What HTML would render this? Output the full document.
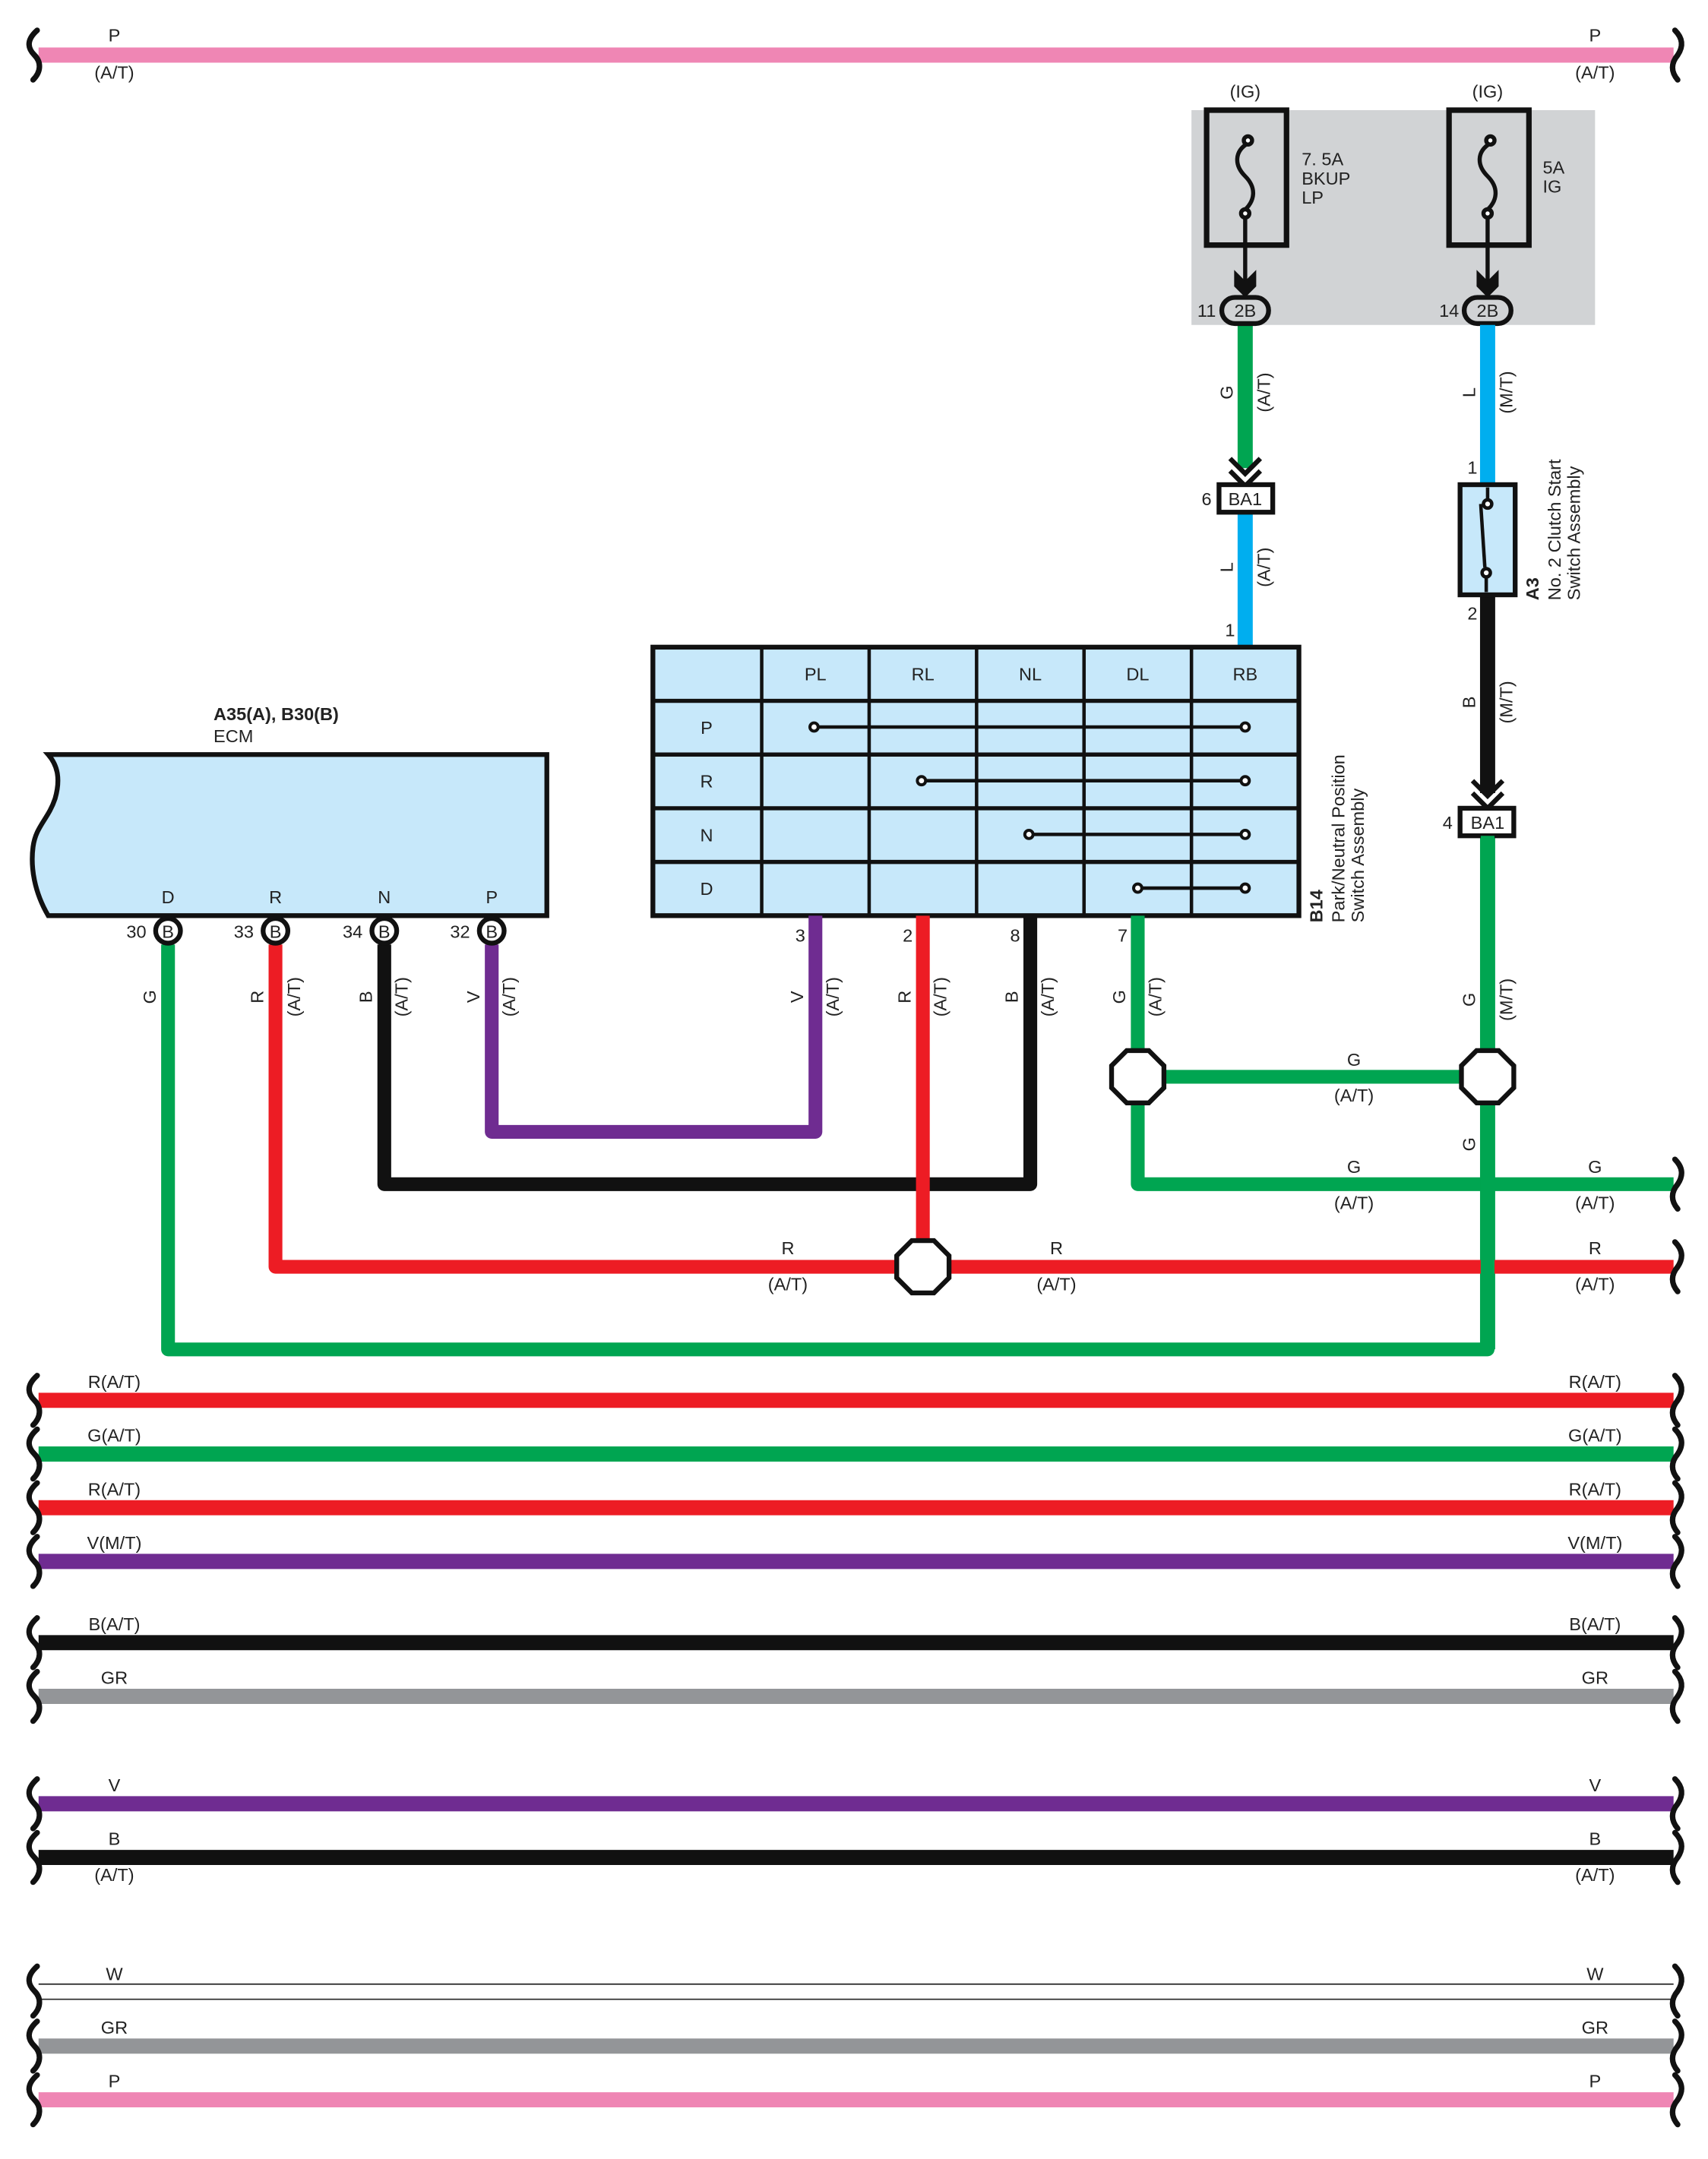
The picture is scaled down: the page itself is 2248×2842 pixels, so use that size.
<!DOCTYPE html>
<html><head><meta charset="utf-8"><style>
html,body{margin:0;padding:0;background:#fff;}
svg{display:block;}
text{font-family:"Liberation Sans",sans-serif;font-size:13px;fill:#222;}
</style></head><body>
<svg width="2248" height="2842" viewBox="0 0 1240 1568" preserveAspectRatio="none" xmlns="http://www.w3.org/2000/svg">
<defs>
<path id="brL" d="M0,-18 C-9,-10 -6,-4 -2,0 C3,5 3,12 -3,18" fill="none" stroke="#111" stroke-width="4" stroke-linecap="round"/>
<path id="brR" d="M0,-18 C6,-12 6,-6 2,0 C-3,6 -3,12 2,18" fill="none" stroke="#111" stroke-width="4" stroke-linecap="round"/>
</defs>
<rect width="1240" height="1568" fill="#fff"/>

<!-- top pink -->
<line x1="28" y1="40" x2="1215" y2="40" stroke="#ef86b4" stroke-width="11"/>
<use href="#brL" x="27" y="40"/><use href="#brR" x="1216" y="40"/>
<text x="83" y="30" text-anchor="middle">P</text><text x="83" y="57" text-anchor="middle">(A/T)</text>
<text x="1158" y="30" text-anchor="middle">P</text><text x="1158" y="57" text-anchor="middle">(A/T)</text>

<!-- fuse box -->
<rect x="865" y="80" width="293" height="156" fill="#d1d3d5"/>
<text x="904" y="71" text-anchor="middle">(IG)</text><text x="1080" y="71" text-anchor="middle">(IG)</text>
<rect x="876" y="80" width="58" height="98" fill="none" stroke="#111" stroke-width="4"/>
<rect x="1052" y="80" width="58" height="98" fill="none" stroke="#111" stroke-width="4"/>
<g fill="none" stroke="#111" stroke-width="3">
<path d="M906,104 C896,110 896,120 904,128 C912,136 912,146 902,154"/>
<circle cx="906" cy="102" r="3" fill="#fff"/><circle cx="904" cy="155" r="3" fill="#fff"/>
<path d="M1082,104 C1072,110 1072,120 1080,128 C1088,136 1088,146 1078,154"/>
<circle cx="1082" cy="102" r="3" fill="#fff"/><circle cx="1080" cy="155" r="3" fill="#fff"/>
<line x1="904" y1="158" x2="904" y2="205"/><line x1="1080" y1="158" x2="1080" y2="205"/>
</g>
<path d="M896,196 L904,204 L912,196 L912,208 L904,216 L896,208Z" fill="#111"/>
<path d="M1072,196 L1080,204 L1088,196 L1088,208 L1080,216 L1072,208Z" fill="#111"/>
<text x="945" y="120">7. 5A</text><text x="945" y="134">BKUP</text><text x="945" y="148">LP</text>
<text x="1120" y="126">5A</text><text x="1120" y="140">IG</text>

<!-- left G/L column -->
<line x1="904" y1="236" x2="904" y2="340" stroke="#00a551" stroke-width="11"/>
<path d="M893,333 L904,344 L915,333 M893,342 L904,353 L915,342" fill="none" stroke="#111" stroke-width="3.5"/>
<line x1="904" y1="372" x2="904" y2="470" stroke="#00aeef" stroke-width="11"/>
<rect x="885" y="352" width="39" height="20" fill="#fff" stroke="#111" stroke-width="3.5"/>
<text x="904" y="367" text-anchor="middle">BA1</text><text x="876" y="367" text-anchor="middle">6</text>
<text x="893" y="462" text-anchor="middle">1</text>
<text transform="translate(895,285) rotate(-90)" text-anchor="middle">G</text>
<text transform="translate(922,285) rotate(-90)" text-anchor="middle">(A/T)</text>
<text transform="translate(895,412) rotate(-90)" text-anchor="middle">L</text>
<text transform="translate(922,412) rotate(-90)" text-anchor="middle">(A/T)</text>
<!-- 2B connectors -->
<rect x="887" y="216" width="34" height="19" rx="9.5" fill="#d1d3d5" stroke="#111" stroke-width="3.5"/>
<text x="904" y="230" text-anchor="middle">2B</text><text x="876" y="230" text-anchor="middle">11</text>
<rect x="1063" y="216" width="34" height="19" rx="9.5" fill="#d1d3d5" stroke="#111" stroke-width="3.5"/>
<text x="1080" y="230" text-anchor="middle">2B</text><text x="1052" y="230" text-anchor="middle">14</text>

<!-- right column -->
<line x1="1080" y1="236" x2="1080" y2="353" stroke="#00aeef" stroke-width="11"/>
<text transform="translate(1071,285) rotate(-90)" text-anchor="middle">L</text>
<text transform="translate(1098,285) rotate(-90)" text-anchor="middle">(M/T)</text>
<text x="1069" y="344" text-anchor="middle">1</text>
<line x1="1080" y1="432" x2="1080" y2="576" stroke="#111" stroke-width="11"/>
<path d="M1069,567 L1080,578 L1091,567 M1069,576 L1080,587 L1091,576" fill="none" stroke="#111" stroke-width="3.5"/>
<line x1="1080" y1="607" x2="1080" y2="980" stroke="#00a551" stroke-width="11"/>
<rect x="1060" y="352" width="40" height="80" fill="#c7e8fa" stroke="#111" stroke-width="3.5"/>
<g stroke="#111" stroke-width="2.5" fill="none"><line x1="1080" y1="354" x2="1080" y2="362"/>
<line x1="1075" y1="366" x2="1078" y2="412"/><circle cx="1080" cy="366" r="3" fill="#fff"/>
<circle cx="1079" cy="416" r="3" fill="#fff"/><line x1="1079" y1="419" x2="1079" y2="430"/></g>
<text x="1069" y="450" text-anchor="middle">2</text>
<text transform="translate(1117,436) rotate(-90)" style="font-weight:bold">A3</text>
<text transform="translate(1133,436) rotate(-90)">No. 2 Clutch Start</text>
<text transform="translate(1147,436) rotate(-90)">Switch Assembly</text>
<text transform="translate(1071,510) rotate(-90)" text-anchor="middle">B</text>
<text transform="translate(1098,510) rotate(-90)" text-anchor="middle">(M/T)</text>
<rect x="1060" y="587" width="39" height="20" fill="#fff" stroke="#111" stroke-width="3.5"/>
<text x="1080" y="602" text-anchor="middle">BA1</text><text x="1051" y="602" text-anchor="middle">4</text>
<text transform="translate(1071,726) rotate(-90)" text-anchor="middle">G</text>
<text transform="translate(1098,726) rotate(-90)" text-anchor="middle">(M/T)</text>

<!-- table -->
<rect x="474" y="470" width="469" height="195" fill="#c7e8fa" stroke="#111" stroke-width="3.5"/>
<g stroke="#111" stroke-width="2.5">
<line x1="553" y1="470" x2="553" y2="665"/><line x1="631" y1="470" x2="631" y2="665"/><line x1="709" y1="470" x2="709" y2="665"/><line x1="787" y1="470" x2="787" y2="665"/><line x1="865" y1="470" x2="865" y2="665"/>
<line x1="474" y1="509" x2="943" y2="509" stroke-width="3"/><line x1="474" y1="548" x2="943" y2="548" stroke-width="3"/><line x1="474" y1="587" x2="943" y2="587" stroke-width="3"/><line x1="474" y1="626" x2="943" y2="626" stroke-width="3"/>
<line x1="591" y1="528" x2="904" y2="528"/><line x1="669" y1="567" x2="904" y2="567"/><line x1="747" y1="606" x2="904" y2="606"/><line x1="826" y1="645" x2="904" y2="645"/>
</g>
<g fill="#fff" stroke="#111" stroke-width="2.2">
<circle cx="591" cy="528" r="3"/><circle cx="904" cy="528" r="3"/><circle cx="669" cy="567" r="3"/><circle cx="904" cy="567" r="3"/>
<circle cx="747" cy="606" r="3"/><circle cx="904" cy="606" r="3"/><circle cx="826" cy="645" r="3"/><circle cx="904" cy="645" r="3"/></g>
<g text-anchor="middle"><text x="592" y="494">PL</text><text x="670" y="494">RL</text><text x="748" y="494">NL</text><text x="826" y="494">DL</text><text x="904" y="494">RB</text>
<text x="513" y="533">P</text><text x="513" y="572">R</text><text x="513" y="611">N</text><text x="513" y="650">D</text></g>
<text transform="translate(960,670) rotate(-90)" style="font-weight:bold">B14</text>
<text transform="translate(976,670) rotate(-90)">Park/Neutral Position</text>
<text transform="translate(990,670) rotate(-90)">Switch Assembly</text>

<!-- ECM -->
<text x="155" y="523" style="font-weight:bold">A35(A), B30(B)</text><text x="155" y="539">ECM</text>
<path d="M35,548 L397,548 L397,665 L35,665 C25,648 22,630 24,615 C26,600 35,595 40,580 C44,566 42,556 35,548Z" fill="#c7e8fa" stroke="#111" stroke-width="3.5"/>
<g text-anchor="middle"><text x="122" y="656">D</text><text x="200" y="656">R</text><text x="279" y="656">N</text><text x="357" y="656">P</text>
<text x="99" y="681">30</text><text x="177" y="681">33</text><text x="256" y="681">34</text><text x="334" y="681">32</text></g>

<!-- wires -->
<g fill="none" stroke-width="10" stroke-linejoin="round">
<path d="M592,665 L592,822 L357,822 L357,686" stroke="#6f2c91"/>
<path d="M748,665 L748,860 L279,860 L279,686" stroke="#111"/>
<path d="M200,686 L200,920 L1215,920" stroke="#ed1c24"/>
<path d="M670,665 L670,920" stroke="#ed1c24"/>
<path d="M826,665 L826,860 L1215,860" stroke="#00a551"/>
<path d="M826,782 L1080,782" stroke="#00a551"/>
<path d="M122,686 L122,980 L1080,980 L1080,607" stroke="#00a551"/>
</g>
<g fill="#fff" stroke="#111" stroke-width="3.5">
<circle cx="122" cy="676" r="9"/><circle cx="200" cy="676" r="9"/><circle cx="279" cy="676" r="9"/><circle cx="357" cy="676" r="9"/>
<polygon points="818,763 834,763 845,774 845,790 834,801 818,801 807,790 807,774"/>
<polygon points="1072,763 1088,763 1099,774 1099,790 1088,801 1072,801 1061,790 1061,774"/>
<polygon points="662,901 678,901 689,912 689,928 678,939 662,939 651,928 651,912"/>
</g>
<g text-anchor="middle"><text x="122" y="681">B</text><text x="200" y="681">B</text><text x="279" y="681">B</text><text x="357" y="681">B</text>
<text x="581" y="684">3</text><text x="659" y="684">2</text><text x="737" y="684">8</text><text x="815" y="684">7</text>
<text x="983" y="774">G</text><text x="983" y="800">(A/T)</text><text x="983" y="852">G</text><text x="983" y="878">(A/T)</text>
<text x="1158" y="852">G</text><text x="1158" y="878">(A/T)</text>
<text x="572" y="911">R</text><text x="572" y="937">(A/T)</text><text x="767" y="911">R</text><text x="767" y="937">(A/T)</text>
<text x="1158" y="911">R</text><text x="1158" y="937">(A/T)</text></g>
<use href="#brR" x="1216" y="860"/><use href="#brR" x="1216" y="920"/>
<g text-anchor="middle">
<text transform="translate(113,724) rotate(-90)">G</text>
<text transform="translate(191,724) rotate(-90)">R</text><text transform="translate(218,724) rotate(-90)">(A/T)</text>
<text transform="translate(270,724) rotate(-90)">B</text><text transform="translate(296,724) rotate(-90)">(A/T)</text>
<text transform="translate(348,724) rotate(-90)">V</text><text transform="translate(374,724) rotate(-90)">(A/T)</text>
<text transform="translate(583,724) rotate(-90)">V</text><text transform="translate(609,724) rotate(-90)">(A/T)</text>
<text transform="translate(661,724) rotate(-90)">R</text><text transform="translate(687,724) rotate(-90)">(A/T)</text>
<text transform="translate(739,724) rotate(-90)">B</text><text transform="translate(765,724) rotate(-90)">(A/T)</text>
<text transform="translate(817,724) rotate(-90)">G</text><text transform="translate(843,724) rotate(-90)">(A/T)</text>
<text transform="translate(1071,831) rotate(-90)">G</text>
</g>

<!-- bottom buses -->
<g stroke-width="11">
<line x1="28" y1="1017" x2="1215" y2="1017" stroke="#ed1c24"/>
<line x1="28" y1="1056" x2="1215" y2="1056" stroke="#00a551"/>
<line x1="28" y1="1095" x2="1215" y2="1095" stroke="#ed1c24"/>
<line x1="28" y1="1134" x2="1215" y2="1134" stroke="#6f2c91"/>
<line x1="28" y1="1193" x2="1215" y2="1193" stroke="#111"/>
<line x1="28" y1="1232" x2="1215" y2="1232" stroke="#939598"/>
<line x1="28" y1="1310" x2="1215" y2="1310" stroke="#6f2c91"/>
<line x1="28" y1="1349" x2="1215" y2="1349" stroke="#111"/>
<line x1="28" y1="1486" x2="1215" y2="1486" stroke="#939598"/>
<line x1="28" y1="1525" x2="1215" y2="1525" stroke="#ef86b4"/>
</g>
<line x1="28" y1="1441" x2="1215" y2="1441" stroke="#333" stroke-width="1"/>
<line x1="28" y1="1452" x2="1215" y2="1452" stroke="#333" stroke-width="1"/>
<g>
<use href="#brL" x="27" y="1017"/><use href="#brL" x="27" y="1056"/><use href="#brL" x="27" y="1095"/><use href="#brL" x="27" y="1134"/>
<use href="#brL" x="27" y="1193"/><use href="#brL" x="27" y="1232"/><use href="#brL" x="27" y="1310"/><use href="#brL" x="27" y="1349"/>
<use href="#brL" x="27" y="1446"/><use href="#brL" x="27" y="1486"/><use href="#brL" x="27" y="1525"/>
<use href="#brR" x="1216" y="1017"/><use href="#brR" x="1216" y="1056"/><use href="#brR" x="1216" y="1095"/><use href="#brR" x="1216" y="1134"/>
<use href="#brR" x="1216" y="1193"/><use href="#brR" x="1216" y="1232"/><use href="#brR" x="1216" y="1310"/><use href="#brR" x="1216" y="1349"/>
<use href="#brR" x="1216" y="1446"/><use href="#brR" x="1216" y="1486"/><use href="#brR" x="1216" y="1525"/>
</g>
<g text-anchor="middle">
<text x="83" y="1008">R(A/T)</text><text x="1158" y="1008">R(A/T)</text>
<text x="83" y="1047">G(A/T)</text><text x="1158" y="1047">G(A/T)</text>
<text x="83" y="1086">R(A/T)</text><text x="1158" y="1086">R(A/T)</text>
<text x="83" y="1125">V(M/T)</text><text x="1158" y="1125">V(M/T)</text>
<text x="83" y="1184">B(A/T)</text><text x="1158" y="1184">B(A/T)</text>
<text x="83" y="1223">GR</text><text x="1158" y="1223">GR</text>
<text x="83" y="1301">V</text><text x="1158" y="1301">V</text>
<text x="83" y="1340">B</text><text x="1158" y="1340">B</text>
<text x="83" y="1366">(A/T)</text><text x="1158" y="1366">(A/T)</text>
<text x="83" y="1438">W</text><text x="1158" y="1438">W</text>
<text x="83" y="1477">GR</text><text x="1158" y="1477">GR</text>
<text x="83" y="1516">P</text><text x="1158" y="1516">P</text>
</g>
</svg>
</body></html>
